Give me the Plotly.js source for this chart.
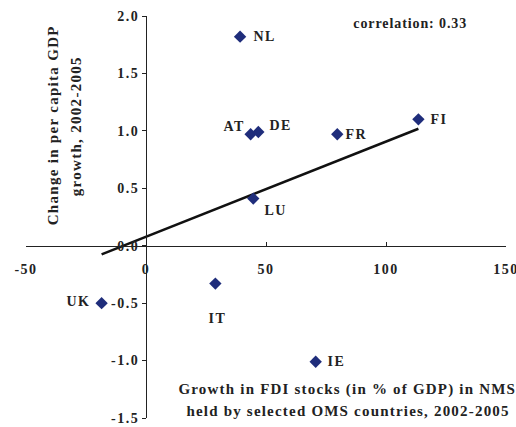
<!DOCTYPE html>
<html><head><meta charset="utf-8">
<script src="https://cdn.plot.ly/plotly-3.0.1.min.js"></script>
<style>html,body{margin:0;padding:0;background:#fff}#chart{width:516px;height:427px}
#chart text{letter-spacing:1.5px}
#chart text[data-unformatted^="correlation"]{letter-spacing:0.9px}
#chart text[data-unformatted^="Change"],#chart text[data-unformatted^="growth"]{letter-spacing:1.3px}
#chart text[data-unformatted^="Growth"],#chart text[data-unformatted^="held"]{letter-spacing:1.2px}
</style>
</head><body><div id="chart"></div>
<script>
// Data
const countries = ["NL","AT","DE","FR","FI","LU","UK","IT","IE"];
const fdiGrowth = [39.2, 43.6, 46.8, 79.7, 113.5, 44.7, -18.5, 28.9, 70.7];
const gdpChange = [1.82, 0.97, 0.99, 0.97, 1.10, 0.41, -0.50, -0.33, -1.01];
const xTickVals = [-50, 0, 50, 100, 150];
const xTickText = ["-50", "0", "50", "100", "150"];
const yTickVals = [-1.5, -1.0, -0.5, 0.0, 0.5, 1.0, 1.5, 2.0];
const yTickText = ["-1.5", "-1.0", "-0.5", "0.0", "0.5", "1.0", "1.5", "2.0"];
const yTitleLines = ["Change in per capita GDP", "growth, 2002-2005"];
const xTitleLines = ["Growth in FDI stocks (in % of GDP) in NMS", "held by selected OMS countries, 2002-2005"];

// label offsets (style, pixels)
const labelOffsets = {
  NL:[24,0], AT:[-16,-8], DE:[22,-7], FR:[20,0], FI:[21,0],
  LU:[22,12], UK:[-23,-2], IT:[2,35], IE:[21,0]
};

// linear regression
const n = fdiGrowth.length;
const mx = fdiGrowth.reduce((a,b)=>a+b,0)/n;
const my = gdpChange.reduce((a,b)=>a+b,0)/n;
let sxy=0, sxx=0, syy=0;
for (let i=0;i<n;i++){ const dx=fdiGrowth[i]-mx, dy=gdpChange[i]-my; sxy+=dx*dy; sxx+=dx*dx; syy+=dy*dy; }
const slope = sxy/sxx, icpt = my - slope*mx;
const r = sxy/Math.sqrt(sxx*syy);
const xmin = Math.min(...fdiGrowth), xmax = Math.max(...fdiGrowth);

const serif = "Liberation Serif, Times New Roman, serif";
const navy = "#1f2d7b";
const ink = "#222";

const traces = [
  {x:[xmin,xmax], y:[icpt+slope*xmin, icpt+slope*xmax], mode:"lines",
   line:{color:"#111", width:2.5}, hoverinfo:"skip"},
  {x:fdiGrowth, y:gdpChange, mode:"markers", marker:{symbol:"diamond", size:9.5, color:navy}}
];

const annotations = countries.map((c,i)=>({
  x:fdiGrowth[i], y:gdpChange[i], xref:"x", yref:"y", text:c, showarrow:false,
  xanchor:"center", yanchor:"middle",
  xshift:labelOffsets[c][0], yshift:-labelOffsets[c][1],
  font:{family:serif, size:14, color:ink, weight:"bold"}
}));
annotations.push({
  xref:"paper", yref:"paper", x:0.802, y:0.981, showarrow:false,
  xanchor:"center", yanchor:"middle",
  text:"correlation: " + r.toFixed(2),
  font:{family:serif, size:14, color:ink, weight:"bold"}
});
const yTitleX = [0.05625, 0.103];
yTitleLines.forEach((t,i)=>annotations.push({
  xref:"paper", yref:"paper", x:yTitleX[i], y:0.727, showarrow:false, textangle:-90,
  xanchor:"center", yanchor:"middle", text:t,
  font:{family:serif, size:15, color:ink, weight:"bold"}
}));
const xTitleY = [0.0697, 0.0182];
xTitleLines.forEach((t,i)=>annotations.push({
  xref:"paper", yref:"paper", x:0.67, y:xTitleY[i], showarrow:false,
  xanchor:"center", yanchor:"middle", text:t,
  font:{family:serif, size:15, color:ink, weight:"bold"}
}));

const layout = {
  width:516, height:427,
  margin:{l:26, r:10, t:16, b:9, pad:0},
  paper_bgcolor:"#fff", plot_bgcolor:"#fff",
  showlegend:false,
  xaxis:{range:[-50,150], anchor:"free", position:1.5/3.5,
    tickvals:xTickVals, ticktext:xTickText, ticks:"inside", ticklen:4, tickcolor:ink,
    showline:true, linecolor:ink, linewidth:1, showgrid:false, zeroline:false,
    ticklabelstandoff:10, ticklabeloverflow:"allow",
    tickfont:{family:serif, size:14, color:ink, weight:"bold"}},
  yaxis:{range:[-1.5,2.0], anchor:"free", position:0.25,
    tickvals:yTickVals, ticktext:yTickText, ticks:"outside", ticklen:4, tickcolor:ink,
    showline:true, linecolor:ink, linewidth:1, showgrid:false, zeroline:false,
    ticklabeloverflow:"allow",
    tickfont:{family:serif, size:14, color:ink, weight:"bold"}},
  annotations:annotations
};
Plotly.newPlot("chart", traces, layout, {displayModeBar:false, staticPlot:true});
</script></body></html>
